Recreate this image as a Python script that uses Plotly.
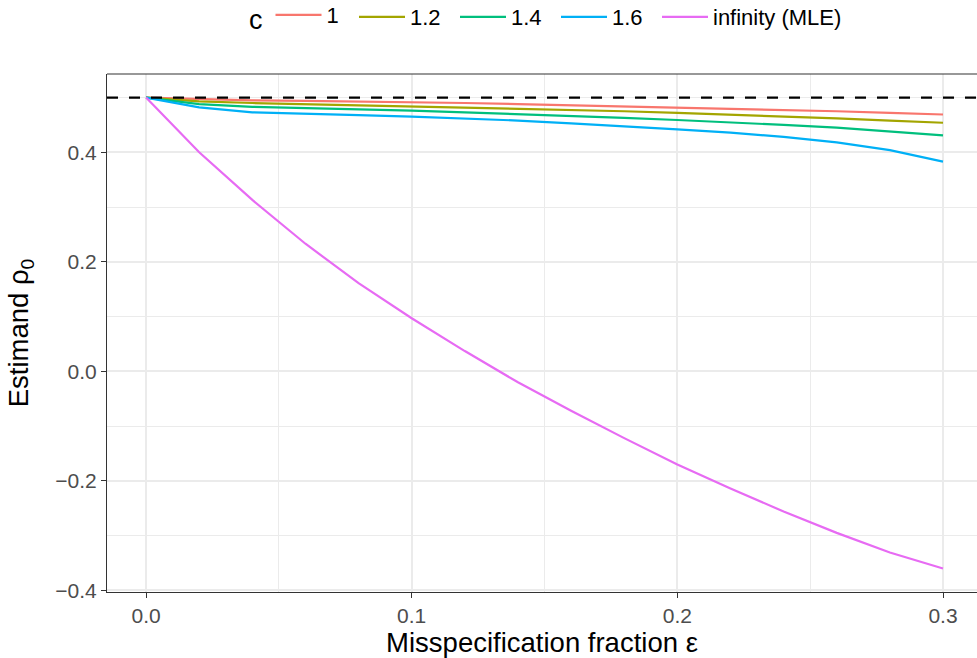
import plotly.graph_objects as go

# ---- data ----
eps = [0.00, 0.02, 0.04, 0.06, 0.08, 0.10, 0.12, 0.14, 0.16, 0.18, 0.20, 0.22, 0.24, 0.26, 0.28, 0.30]

rho_c1 = [0.500, 0.497, 0.495, 0.494, 0.493, 0.491, 0.490, 0.488, 0.486, 0.484, 0.482, 0.480, 0.477, 0.475, 0.472, 0.469]
rho_c12 = [0.500, 0.493, 0.490, 0.488, 0.486, 0.484, 0.482, 0.480, 0.477, 0.475, 0.472, 0.469, 0.466, 0.462, 0.458, 0.454]
rho_c14 = [0.500, 0.488, 0.483, 0.481, 0.478, 0.476, 0.473, 0.470, 0.467, 0.463, 0.459, 0.455, 0.450, 0.445, 0.438, 0.431]
rho_c16 = [0.500, 0.482, 0.473, 0.471, 0.468, 0.465, 0.462, 0.458, 0.453, 0.448, 0.442, 0.436, 0.428, 0.418, 0.404, 0.383]
rho_mle = [0.500, 0.400, 0.313, 0.233, 0.161, 0.097, 0.037, -0.020, -0.072, -0.122, -0.170, -0.214, -0.256, -0.295, -0.331, -0.360]

series_names = ["1", "1.2", "1.4", "1.6", "infinity (MLE)"]
series_values = [rho_c1, rho_c12, rho_c14, rho_c16, rho_mle]
true_value = 0.5

x_tickvals = [0.0, 0.1, 0.2, 0.3]
x_ticktext = ["0.0", "0.1", "0.2", "0.3"]
y_tickvals = [-0.4, -0.2, 0.0, 0.2, 0.4]
y_ticktext = ["\u22120.4", "\u22120.2", "0.0", "0.2", "0.4"]

# ---- styles ----
colors = ["#F8766D", "#A3A500", "#00BF7D", "#00B0F6", "#E76BF3"]
FONT = "Liberation Sans, Arial, Helvetica, sans-serif"

W, H = 977, 658
L, R, T, B = 107, 0, 74, 66
PW, PH = W - L - R, H - T - B

# pixel x where each legend entry's key line should start
legend_px = [277, 359, 460, 561, 662]
legend_ids = ["legend", "legend2", "legend3", "legend4", "legend5"]

fig = go.Figure()
for name, vals, col, lid in zip(series_names, series_values, colors, legend_ids):
    fig.add_trace(go.Scatter(x=eps, y=vals, mode="lines", name=name, legend=lid,
                             line=dict(color=col, width=2.2)))

# dashed reference line across the panel
fig.add_shape(type="line", xref="paper", x0=0, x1=1, yref="y", y0=true_value, y1=true_value,
              line=dict(color="black", width=2.2, dash="11px,11px"), layer="above")
# top panel border
fig.add_shape(type="line", xref="paper", x0=0, x1=1, yref="paper", y0=1, y1=1,
              line=dict(color="#333333", width=1.2), layer="above")

legend_y = 1 + (T - 17) / PH
legend_layouts = {}
for i, (lid, px) in enumerate(zip(legend_ids, legend_px)):
    d = dict(orientation="h", x=(px - 5 - L) / PW, xanchor="left", y=legend_y, yanchor="middle",
             font=dict(size=22, color="black"), bgcolor="rgba(0,0,0,0)", borderwidth=0,
             itemwidth=46, itemclick=False, itemdoubleclick=False)
    if i == 0:
        d["title"] = dict(text="c", font=dict(size=27, color="black"), side="left")
        d["x"] = (247 - L) / PW
    legend_layouts[lid] = d

fig.update_layout(
    width=W, height=H,
    margin=dict(l=L, r=R, t=T, b=B, pad=0, autoexpand=False),
    paper_bgcolor="white", plot_bgcolor="white",
    font=dict(family=FONT, color="black"),
    showlegend=True,
    xaxis=dict(range=[-0.0147, 0.3128], tickvals=x_tickvals, ticktext=x_ticktext,
               tickfont=dict(size=21, color="#4D4D4D"), ticks="outside", ticklen=5, tickwidth=1.2,
               tickcolor="#333333", showline=True, linecolor="#333333", linewidth=1.2,
               showgrid=True, gridcolor="#EBEBEB", gridwidth=1.6, zeroline=False,
               minor=dict(tick0=0.05, dtick=0.1, showgrid=True, gridcolor="#EBEBEB", gridwidth=0.8, ticks=""),
               title=dict(text="Misspecification fraction \u03b5", font=dict(size=27.5, color="black"), standoff=5),
               automargin=False),
    yaxis=dict(range=[-0.403, 0.543], tickvals=y_tickvals, ticktext=y_ticktext,
               tickfont=dict(size=21, color="#4D4D4D"), ticks="outside", ticklen=5, tickwidth=1.2,
               tickcolor="#333333", showline=True, linecolor="#333333", linewidth=1.2,
               showgrid=True, gridcolor="#EBEBEB", gridwidth=1.6, zeroline=False,
               minor=dict(tick0=0.1, dtick=0.2, showgrid=True, gridcolor="#EBEBEB", gridwidth=0.8, ticks=""),
               title=dict(text="Estimand \u03c1<sub>0</sub>", font=dict(size=27.5, color="black"), standoff=18),
               automargin=False),
    **legend_layouts,
)

fig.write_html("out.html", config={"displayModeBar": False},
               post_script="document.body.style.margin='0';")
